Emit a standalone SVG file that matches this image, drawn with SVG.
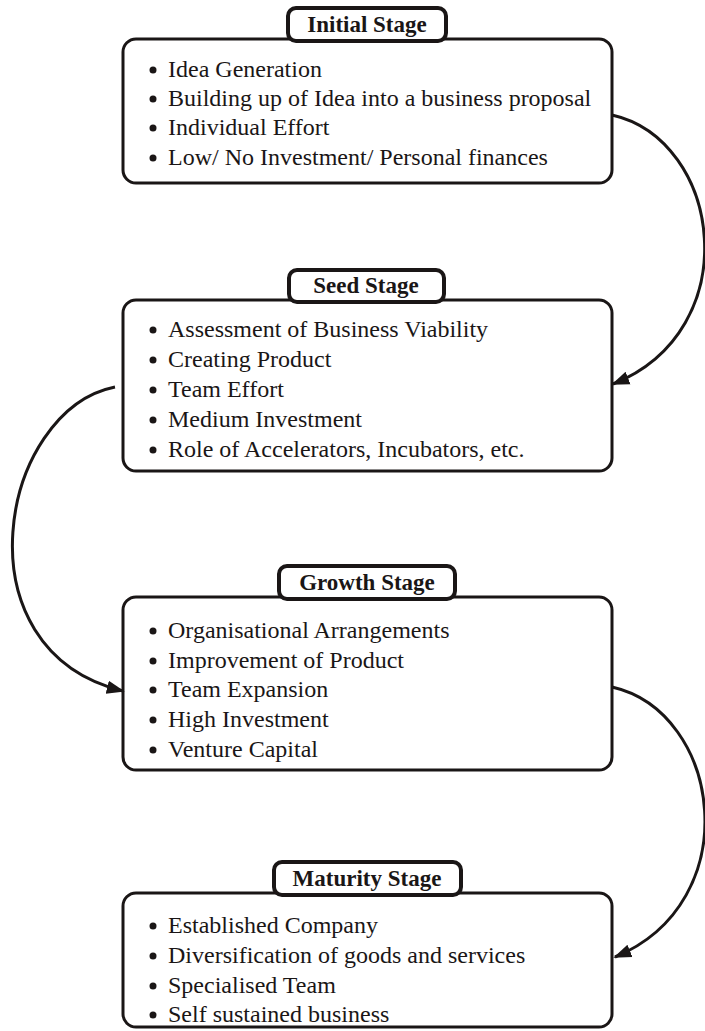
<svg xmlns="http://www.w3.org/2000/svg" width="705" height="1031" viewBox="0 0 705 1031">
<defs>
<style>
.box{fill:#fff;stroke:#1a1616;stroke-width:3}
.pill{fill:#fff;stroke:#1a1616;stroke-width:4}
.title{font-family:"Liberation Serif","Times New Roman",serif;font-weight:bold;font-size:23px;fill:#1a1616;text-anchor:middle}
.item{font-family:"Liberation Serif","Times New Roman",serif;font-size:24px;fill:#1a1616}
.dot{fill:#1a1616}
.conn{fill:none;stroke:#1a1616;stroke-width:3}
</style>
<marker id="arr" viewBox="0 0 10 10" refX="9" refY="5" markerWidth="6" markerHeight="6" markerUnits="strokeWidth" orient="auto">
<path d="M0,1.3 L10,5 L0,8.7 Z" fill="#1a1616"/>
</marker>
</defs>
<rect width="705" height="1031" fill="#fff"/>

<g id="initial">
<rect class="box" x="123" y="39" width="489" height="144" rx="13"/>
<rect class="pill" x="288" y="8" width="158" height="33" rx="8"/>
<text class="title" x="367" y="32">Initial Stage</text>
<circle class="dot" cx="153" cy="70" r="3.5"/>
<text class="item" x="168" y="77">Idea Generation</text>
<circle class="dot" cx="153" cy="99" r="3.5"/>
<text class="item" x="168" y="106">Building up of Idea into a business proposal</text>
<circle class="dot" cx="153" cy="128" r="3.5"/>
<text class="item" x="168" y="135">Individual Effort</text>
<circle class="dot" cx="153" cy="158" r="3.5"/>
<text class="item" x="168" y="165">Low/ No Investment/ Personal finances</text>
</g>

<g id="seed">
<rect class="box" x="123" y="300" width="489" height="171" rx="13"/>
<rect class="pill" x="289" y="270" width="155" height="32" rx="8"/>
<text class="title" x="366" y="293">Seed Stage</text>
<circle class="dot" cx="153" cy="330" r="3.5"/>
<text class="item" x="168" y="337">Assessment of Business Viability</text>
<circle class="dot" cx="153" cy="360" r="3.5"/>
<text class="item" x="168" y="367">Creating Product</text>
<circle class="dot" cx="153" cy="390" r="3.5"/>
<text class="item" x="168" y="397">Team Effort</text>
<circle class="dot" cx="153" cy="420" r="3.5"/>
<text class="item" x="168" y="427">Medium Investment</text>
<circle class="dot" cx="153" cy="450" r="3.5"/>
<text class="item" x="168" y="457">Role of Accelerators, Incubators, etc.</text>
</g>

<g id="growth">
<rect class="box" x="123" y="597" width="489" height="173" rx="13"/>
<rect class="pill" x="279" y="566" width="176" height="33" rx="8"/>
<text class="title" x="367" y="590">Growth Stage</text>
<circle class="dot" cx="153" cy="631" r="3.5"/>
<text class="item" x="168" y="638">Organisational Arrangements</text>
<circle class="dot" cx="153" cy="661" r="3.5"/>
<text class="item" x="168" y="668">Improvement of Product</text>
<circle class="dot" cx="153" cy="690" r="3.5"/>
<text class="item" x="168" y="697">Team Expansion</text>
<circle class="dot" cx="153" cy="720" r="3.5"/>
<text class="item" x="168" y="727">High Investment</text>
<circle class="dot" cx="153" cy="750" r="3.5"/>
<text class="item" x="168" y="757">Venture Capital</text>
</g>

<g id="maturity">
<rect class="box" x="123" y="893" width="489" height="134" rx="13"/>
<rect class="pill" x="274" y="862" width="187" height="33" rx="8"/>
<text class="title" x="367" y="886">Maturity Stage</text>
<circle class="dot" cx="153" cy="926" r="3.5"/>
<text class="item" x="168" y="933">Established Company</text>
<circle class="dot" cx="153" cy="956" r="3.5"/>
<text class="item" x="168" y="963">Diversification of goods and services</text>
<circle class="dot" cx="153" cy="986" r="3.5"/>
<text class="item" x="168" y="993">Specialised Team</text>
<circle class="dot" cx="153" cy="1015" r="3.5"/>
<text class="item" x="168" y="1022">Self sustained business</text>
</g>

<g id="connectors">
<path class="conn" d="M612,115 C722,140 748,330 613,384" marker-end="url(#arr)"/>
<path class="conn" d="M115,387 C0,410 -45,650 123,691" marker-end="url(#arr)"/>
<path class="conn" d="M612,687 C722,712 748,902 615,957" marker-end="url(#arr)"/>
</g>
</svg>
